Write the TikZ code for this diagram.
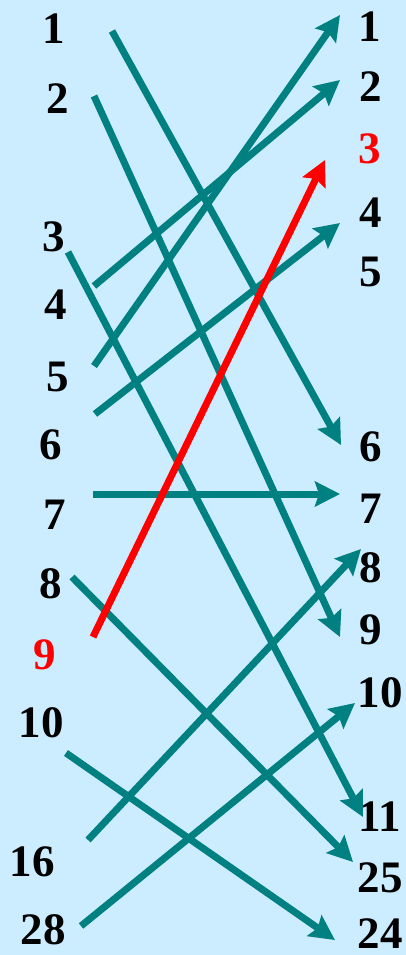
\documentclass[tikz,border=0pt]{standalone}
\usepackage{fontspec}
\setmainfont{Liberation Serif}
\usetikzlibrary{arrows.meta}
\definecolor{bg}{RGB}{204,236,255}
\definecolor{teal2}{RGB}{0,128,128}
\definecolor{red2}{RGB}{255,0,0}
\begin{document}
\begin{tikzpicture}[x=1pt,y=-1pt,
  lbl/.style={inner sep=0pt,font=\fontsize{45}{45}\selectfont\bfseries},
  conn/.style={line width=7pt,draw=teal2,-{Stealth[length=25pt,width=25pt,inset=4pt]}},
  hot/.style={conn,draw=red2}]
\fill[bg] (0,0) rectangle (406,955);
\useasboundingbox (0,0) rectangle (406,955);
% left labels
\node[lbl] (l1) at (54,29) {1};
\node[lbl] (l2) at (58,99) {2};
\node[lbl] (l3) at (54,237) {3};
\node[lbl] (l4) at (56,305) {4};
\node[lbl] (l5) at (58,377) {5};
\node[lbl] (l6) at (51,445) {6};
\node[lbl] (l7) at (55,515) {7};
\node[lbl] (l8) at (51,584) {8};
\node[lbl,text=red2] (l9) at (45,655) {9};
\node[lbl] (l10) at (41,723) {10};
\node[lbl] (l16) at (32,862) {16};
\node[lbl] (l28) at (43,930) {28};
% right labels
\node[lbl] (r1) at (370,27) {1};
\node[lbl] (r2) at (371,87) {2};
\node[lbl,text=red2] (r3) at (370,149) {3};
\node[lbl] (r4) at (371,213) {4};
\node[lbl] (r5) at (371,272) {5};
\node[lbl] (r6) at (371,447) {6};
\node[lbl] (r7) at (371,509) {7};
\node[lbl] (r8) at (371,568) {8};
\node[lbl] (r9) at (371,630) {9};
\node[lbl] (r10) at (380,693) {10};
\node[lbl] (r11) at (380,817) {11};
\node[lbl] (r25) at (380,878) {25};
\node[lbl] (r24) at (380,934) {24};
% connector endpoints
\coordinate (s1) at (112,31);   \coordinate (e1) at (341,445);
\coordinate (s2) at (94,96);    \coordinate (e2) at (340,637);
\coordinate (s3) at (68,252);   \coordinate (e3) at (363,817);
\coordinate (s4) at (94,286);   \coordinate (e4) at (340,80);
\coordinate (s5) at (94,366);   \coordinate (e5) at (340,15);
\coordinate (s6) at (95,414);   \coordinate (e6) at (340,223);
\coordinate (s7) at (93,494);   \coordinate (e7) at (340,494);
\coordinate (s8) at (72,577);   \coordinate (e8) at (353,862);
\coordinate (s9) at (93,637);   \coordinate (e9) at (325,160);
\coordinate (s10) at (66,753);  \coordinate (e10) at (335,940);
\coordinate (s16) at (88,840);  \coordinate (e16) at (361,549);
\coordinate (s28) at (81,926);  \coordinate (e28) at (355,703);
\draw[conn] (s1) -- (e1);
\draw[conn] (s2) -- (e2);
\draw[conn] (s3) -- (e3);
\draw[conn] (s4) -- (e4);
\draw[conn] (s5) -- (e5);
\draw[conn] (s6) -- (e6);
\draw[conn] (s7) -- (e7);
\draw[conn] (s8) -- (e8);
\draw[conn] (s10) -- (e10);
\draw[conn] (s16) -- (e16);
\draw[conn] (s28) -- (e28);
\draw[hot] (s9) -- (e9);
\end{tikzpicture}
\end{document}
